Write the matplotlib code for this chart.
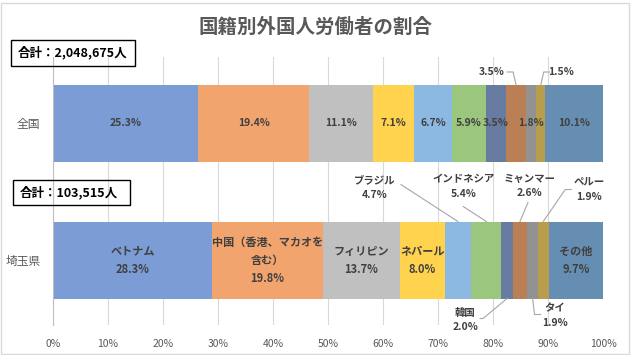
import numpy as np
import matplotlib
matplotlib.use("Agg")
import matplotlib.pyplot as plt
from matplotlib.patches import Rectangle
from matplotlib.lines import Line2D

plt.rcParams['font.family'] = ['Noto Sans CJK JP', 'DejaVu Sans']

# データ
rows = ['全国', '埼玉県']
totals = ['2,048,675', '103,515']
countries = ['ベトナム', '中国（香港、マカオを\n含む）', 'フィリピン', 'ネパール', 'ブラジル',
             'インドネシア', '韓国', 'ミャンマー', 'タイ', 'ペルー', 'その他']
zenkoku = [25.3, 19.4, 11.1, 7.1, 6.7, 5.9, 3.5, 3.5, 1.8, 1.5, 10.1]
saitama = [28.3, 19.8, 13.7, 8.0, 4.7, 5.4, 2.0, 2.6, 1.9, 1.9, 9.7]
xticks = [0, 10, 20, 30, 40, 50, 60, 70, 80, 90, 100]

# Office の色を 70% で白に重ねた色
colors = ['#7C9CD6', '#F2A46F', '#C0C0C0', '#FFD34D', '#8CB9E2', '#9BC67E',
          '#677CA0', '#BB7F56', '#929292', '#B89D4C', '#668EB2']

W, H = 631, 355
fig = plt.figure(figsize=(W / 100, H / 100), dpi=100)
ax = fig.add_axes([53 / W, 1 - 325 / H, 550 / W, 268 / H])

data = [zenkoku, saitama]
txt_col = '#404040'

for r, vals in enumerate(data):
    vals = np.array(vals)
    share = vals / vals.sum() * 100   # 100% 積み上げ
    left = np.concatenate([[0], np.cumsum(share)[:-1]])
    ax.barh(r, share, left=left, height=0.564, color=colors, zorder=2)

ax.set_xlim(0, 100)
ax.set_ylim(1.476, -0.487)
ax.set_xticks(xticks)
ax.set_xticklabels([f'{t}%' for t in xticks])
ax.set_yticks([0, 1])
ax.set_yticklabels(rows)
ax.tick_params(axis='x', length=0, labelsize=7.5, labelcolor='#595959', pad=10)
ax.tick_params(axis='y', length=0, labelsize=8.5, labelcolor='#595959', pad=9)
ax.grid(axis='x', color='#D9D9D9', lw=0.8, zorder=0)
ax.set_axisbelow(True)
for s in ['top', 'right', 'bottom']:
    ax.spines[s].set_visible(False)
ax.spines['left'].set_color('#BFBFBF')

fig.canvas.draw()


def leader(x, y, pts):
    base = ax.transData.transform((x, y))
    p = np.array(pts, dtype=float) + base
    p = fig.transFigure.inverted().transform(p)
    fig.add_artist(Line2D(p[:, 0], p[:, 1], color='#A6A6A6', lw=0.8))


# 全国のラベル
vals = np.array(zenkoku)
share = vals / vals.sum() * 100
mids = np.cumsum(share) - share / 2
outside0 = {7: ((-24, 13), [(-9, 13), (-3, 13), (0, 0)]),
            9: ((20, 13), [(9, 13), (3, 13), (0, 0)])}
top0 = -0.282
for i, v in enumerate(zenkoku):
    if i in outside0:
        off, pts = outside0[i]
        ax.annotate(f'{v}%', xy=(mids[i], top0), xytext=off, textcoords='offset pixels',
                    ha='center', va='center', fontsize=7.5, fontweight='bold', color=txt_col)
        leader(mids[i], top0, pts)
    else:
        ax.text(mids[i], 0, f'{v}%', ha='center', va='center', fontsize=7.5,
                fontweight='bold', color=txt_col, zorder=3)

# 埼玉県のラベル
vals = np.array(saitama)
share = vals / vals.sum() * 100
mids = np.cumsum(share) - share / 2
top1, bot1 = 1 - 0.282, 1 + 0.282
outside1 = {4: (top1, (-83, 34), [(-57, 37), (0, 0)]),
            5: (top1, (-23, 35), [(-23, 15), (0, 0)]),
            7: (top1, (10, 36), [(8, 19), (0, 0)]),
            9: (top1, (46, 32), [(28, 32), (22, 32), (0, 0)]),
            6: (bot1, (-42, -21), [(0, 0), (-24, -20), (-27, -20)]),
            8: (bot1, (22, -17), [(0, 0), (2, -16), (8, -16)])}
for i, v in enumerate(saitama):
    label = f'{countries[i]}\n{v}%'
    if i in outside1:
        yb, off, pts = outside1[i]
        ax.annotate(label, xy=(mids[i], yb), xytext=off, textcoords='offset pixels',
                    ha='center', va='center', fontsize=7.5, fontweight='bold',
                    color=txt_col, linespacing=1.5)
        leader(mids[i], yb, pts)
    else:
        ax.text(mids[i], 1, label, ha='center', va='center', fontsize=8,
                fontweight='bold', color=txt_col, linespacing=1.5, zorder=3)

# タイトル
fig.text(316 / W, 1 - 27 / H, '国籍別外国人労働者の割合', ha='center', va='center',
         fontsize=14, fontweight='bold', color='#595959')

# 合計ボックス
boxes = [(11, 40, 124, 26), (13, 180, 117, 25)]
for (bx, by, bw, bh), tot in zip(boxes, totals):
    fig.add_artist(Rectangle((bx / W, 1 - (by + bh) / H), bw / W, bh / H,
                             transform=fig.transFigure, fill=False, ec='black', lw=1))
    fig.text((bx + 7) / W, 1 - (by + bh / 2) / H, f'合計：{tot}人', ha='left', va='center',
             fontsize=9, fontweight='bold', color='black')

# 外枠
fig.add_artist(Rectangle((1 / W, 1 / H), 628 / W, 351 / H, transform=fig.transFigure,
                         fill=False, ec='#D9D9D9', lw=1))

fig.savefig('out.png', dpi=100)
